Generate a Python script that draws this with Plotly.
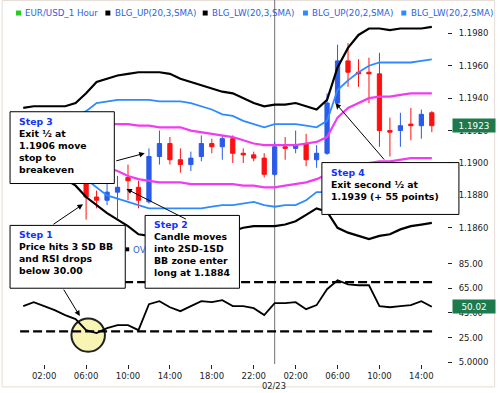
import plotly.graph_objects as go

# ---------------- data ----------------
hours = list(range(40))  # 00:00 02/22 ... 15:00 02/23
tick_hours = [2, 6, 10, 14, 18, 22, 26, 30, 34, 38]
tick_labels = ["02:00", "06:00", "10:00", "14:00", "18:00", "22:00",
               "02:00", "06:00", "10:00", "14:00"]
date_label = "02/23"
date_hour = 24

open_ = [1.1915, 1.1912, 1.1908, 1.1904, 1.1901, 1.1898, 1.1893, 1.1879, 1.1877, 1.1882,
         1.1891, 1.1885, 1.1876, 1.1904, 1.1912, 1.1902, 1.1899, 1.1904, 1.1912, 1.1910,
         1.1915, 1.1906, 1.1905, 1.1903, 1.1893, 1.1910, 1.1909, 1.1912, 1.1902, 1.1906,
         1.1937, 1.1963, 1.1956, 1.1956, 1.1955, 1.1920, 1.1920, 1.1924, 1.1923, 1.1931]
high = [1.1919, 1.1916, 1.1911, 1.1907, 1.1904, 1.1901, 1.1896, 1.1883, 1.1887, 1.1892,
        1.1899, 1.1889, 1.1909, 1.1920, 1.1916, 1.1909, 1.1907, 1.1917, 1.1915, 1.1917,
        1.1917, 1.1909, 1.1907, 1.1906, 1.1913, 1.1916, 1.1920, 1.1918, 1.1911, 1.1943,
        1.1973, 1.1974, 1.1964, 1.1965, 1.1968, 1.1928, 1.1931, 1.1934, 1.1933, 1.1932]
low = [1.1909, 1.1906, 1.1901, 1.1898, 1.1895, 1.1890, 1.1865, 1.1872, 1.1874, 1.1866,
       1.1877, 1.1872, 1.1875, 1.1899, 1.1899, 1.1894, 1.1895, 1.1901, 1.1906, 1.1902,
       1.1900, 1.1900, 1.1901, 1.1891, 1.1892, 1.1902, 1.1906, 1.1898, 1.1897, 1.1905,
       1.1933, 1.1947, 1.1947, 1.1937, 1.1910, 1.1904, 1.1910, 1.1914, 1.1915, 1.1919]
close = [1.1912, 1.1908, 1.1904, 1.1901, 1.1898, 1.1893, 1.1879, 1.1877, 1.1882, 1.1885,
         1.1889, 1.1877, 1.1904, 1.1912, 1.1902, 1.1899, 1.1903, 1.1912, 1.1910, 1.1915,
         1.1906, 1.1905, 1.1903, 1.1893, 1.1910, 1.1909, 1.1911, 1.1902, 1.1906, 1.1937,
         1.1963, 1.1956, 1.1955, 1.1955, 1.1920, 1.1919, 1.1923, 1.1923, 1.1930, 1.1923]

blg_up3 = [1.1934, 1.1935, 1.1935, 1.1935, 1.1935, 1.1937, 1.1943, 1.1950, 1.1952, 1.1954,
           1.1955, 1.1956, 1.1956, 1.1956, 1.1955, 1.1952, 1.1950, 1.1948, 1.1946, 1.1944,
           1.1943, 1.1940, 1.1937, 1.1935, 1.1936, 1.1936, 1.1937, 1.1935, 1.1933, 1.1939,
           1.1959, 1.1971, 1.1979, 1.1983, 1.1983, 1.1982, 1.1983, 1.1983, 1.1983, 1.1984]
blg_lw3 = [1.1896, 1.1895, 1.1893, 1.1892, 1.1890, 1.1886, 1.1879, 1.1874, 1.1869, 1.1865,
           1.1861, 1.1856, 1.1855, 1.1854, 1.1854, 1.1854, 1.1855, 1.1855, 1.1856, 1.1856,
           1.1858, 1.1860, 1.1861, 1.1861, 1.1861, 1.1862, 1.1864, 1.1868, 1.1872, 1.1870,
           1.1860, 1.1857, 1.1855, 1.1853, 1.1855, 1.1856, 1.1859, 1.1861, 1.1862, 1.1863]
blg_up2 = [1.1928, 1.1928, 1.1928, 1.1928, 1.1928, 1.1929, 1.1932, 1.1937, 1.1938, 1.1939,
           1.1939, 1.1939, 1.1939, 1.1938, 1.1938, 1.1938, 1.1937, 1.1935, 1.1933, 1.1930,
           1.1929, 1.1926, 1.1924, 1.1922, 1.1924, 1.1924, 1.1924, 1.1923, 1.1922, 1.1926,
           1.1945, 1.1951, 1.1956, 1.1960, 1.1962, 1.1962, 1.1962, 1.1962, 1.1963, 1.1964]
blg_lw2 = [1.1902, 1.1902, 1.1900, 1.1899, 1.1897, 1.1895, 1.1890, 1.1885, 1.1880, 1.1878,
           1.1876, 1.1874, 1.1872, 1.1872, 1.1872, 1.1872, 1.1872, 1.1872, 1.1873, 1.1874,
           1.1874, 1.1875, 1.1876, 1.1874, 1.1873, 1.1874, 1.1874, 1.1877, 1.1882, 1.1882,
           1.1876, 1.1876, 1.1876, 1.1875, 1.1876, 1.1877, 1.1880, 1.1881, 1.1882, 1.1883]
blg_up1 = [1.1921, 1.1922, 1.1921, 1.1921, 1.1920, 1.1920, 1.1922, 1.1923, 1.1924, 1.1924,
           1.1924, 1.1923, 1.1923, 1.1922, 1.1922, 1.1922, 1.1920, 1.1919, 1.1918, 1.1917,
           1.1916, 1.1914, 1.1912, 1.1911, 1.1911, 1.1911, 1.1911, 1.1912, 1.1913, 1.1916,
           1.1928, 1.1934, 1.1937, 1.1940, 1.1941, 1.1941, 1.1942, 1.1943, 1.1943, 1.1943]
blg_lw1 = [1.1909, 1.1908, 1.1907, 1.1906, 1.1905, 1.1903, 1.1900, 1.1899, 1.1897, 1.1895,
           1.1892, 1.1890, 1.1889, 1.1888, 1.1888, 1.1888, 1.1887, 1.1887, 1.1887, 1.1887,
           1.1887, 1.1886, 1.1886, 1.1885, 1.1885, 1.1886, 1.1887, 1.1888, 1.1890, 1.1893,
           1.1896, 1.1898, 1.1899, 1.1900, 1.1901, 1.1901, 1.1902, 1.1903, 1.1903, 1.1903]

rsi = [50.5, 53.7, 50.5, 47.2, 43.2, 40.0, 31.0, 28.6, 32.7, 35.1,
       35.1, 31.0, 52.1, 54.5, 49.6, 46.4, 50.5, 54.5, 53.7, 55.3,
       50.5, 50.5, 48.8, 43.2, 52.9, 52.9, 53.7, 48.0, 51.3, 64.2,
       71.5, 68.2, 67.4, 67.4, 50.5, 49.6, 50.5, 51.3, 54.5, 50.02]
rsi_levels = [70, 30]

price_ticks = [1.1860, 1.1880, 1.1900, 1.1920, 1.1940, 1.1960, 1.1980]
price_tick_text = ["1.1860", "1.1880", "1.1900", "1.1920", "1.1940", "1.1960", "1.1980"]
rsi_ticks = [85, 65, 45, 25, 5]
rsi_tick_text = ["85.00", "65.00", "45.00", "25.00", "5.0000"]

legend_items = ["EUR/USD_1 Hour", "BLG_UP(20,3,SMA)", "BLG_LW(20,3,SMA)",
                "BLG_UP(20,2,SMA)", "BLG_LW(20,2,SMA)"]

step1 = ["Step 1", "Price hits 3 SD BB", "and RSI drops", "below 30.00"]
step2 = ["Step 2", "Candle moves", "into 2SD-1SD", "BB zone enter", "long at 1.1884"]
step3 = ["Step 3", "Exit \u00bd at", "1.1906 move", "stop to", "breakeven"]
step4 = ["Step 4", "Exit second \u00bd at", "1.1939 (+ 55 points)"]

# ---------------- styles ----------------
C_UP = "#2a5ae8"
C_DN = "#ff1010"
C_BLK = "#000000"
C_BLUE = "#2d8bff"
C_MAG = "#f03cf0"
C_LEG = "#2a62e0"
C_STEP = "#1434f5"
C_TAG = "#1d7a4c"
FONT = "DejaVu Sans"

W, H = 500, 393
ML, MR, MT, MB = 18, 50, 22, 28
PW, PH = W - ML - MR, H - MT - MB


def px(x):
    return (x - ML) / PW


def py(y):
    return (MT + PH - y) / PH


split = py(250)

fig = go.Figure()

fig.add_trace(go.Candlestick(
    x=hours, open=open_, high=high, low=low, close=close,
    increasing=dict(line=dict(color=C_UP, width=1), fillcolor=C_UP),
    decreasing=dict(line=dict(color=C_DN, width=1), fillcolor=C_DN),
    whiskerwidth=0, xaxis="x", yaxis="y", showlegend=False, hoverinfo="skip"))

for series, color, w in [(blg_up1, C_MAG, 2.2), (blg_lw1, C_MAG, 2.2),
                         (blg_up2, C_BLUE, 1.8), (blg_lw2, C_BLUE, 1.8),
                         (blg_up3, C_BLK, 2.2), (blg_lw3, C_BLK, 2.2)]:
    fig.add_trace(go.Scatter(x=hours, y=series, mode="lines",
                             line=dict(color=color, width=w),
                             xaxis="x", yaxis="y", showlegend=False, hoverinfo="skip"))

for lvl in rsi_levels:
    fig.add_trace(go.Scatter(x=[hours[0] - 0.3, hours[-1] + 0.3], y=[lvl, lvl], mode="lines",
                             line=dict(color=C_BLK, width=2.2, dash="9px,4px"),
                             xaxis="x", yaxis="y2", showlegend=False, hoverinfo="skip"))

fig.add_trace(go.Scatter(x=hours, y=rsi, mode="lines",
                         line=dict(color=C_BLK, width=1.8),
                         xaxis="x", yaxis="y2", showlegend=False, hoverinfo="skip"))

shapes = []
# outer frame
shapes.append(dict(type="rect", xref="paper", yref="paper", x0=px(2), x1=px(498),
                   y0=py(388), y1=py(0.5), line=dict(color="#e6dcd6", width=1),
                   fillcolor="rgba(0,0,0,0)", layer="below"))
# day separator
shapes.append(dict(type="line", xref="x", yref="paper", x0=date_hour, x1=date_hour,
                   y0=py(365), y1=py(0), line=dict(color="#707070", width=1), layer="below"))
# highlight circle on RSI
shapes.append(dict(type="circle", xref="x", yref="y2", x0=4.6, x1=7.8, y0=13.5, y1=40.5,
                   line=dict(color="#222222", width=2), fillcolor="#f8f4b4", layer="below"))

annotations = []

# legend
leg_x = [16, 106, 204, 305, 404]
leg_col = ["#22cc22", C_BLK, C_BLK, C_BLUE, C_BLUE]
for name, lx, col in zip(legend_items, leg_x, leg_col):
    shapes.append(dict(type="rect", xref="paper", yref="paper", x0=px(lx), x1=px(lx + 5),
                       y0=py(15.5), y1=py(10.5), line=dict(width=0), fillcolor=col))
    annotations.append(dict(xref="paper", yref="paper", x=px(lx + 7.5), y=py(13),
                            xanchor="left", yanchor="middle", text=name, showarrow=False,
                            font=dict(family=FONT, size=8.7, color=C_LEG)))

# partially hidden RSI legend row
shapes.append(dict(type="rect", xref="paper", yref="paper", x0=px(126), x1=px(130),
                   y0=py(252), y1=py(248), line=dict(width=0), fillcolor=C_BLK))
annotations.append(dict(xref="paper", yref="paper", x=px(132), y=py(251),
                        xanchor="left", yanchor="middle", text="OV", showarrow=False,
                        font=dict(family=FONT, size=8.7, color=C_LEG)))

# step boxes
boxes = [(step3, 10, 115, 112, 184), (step1, 10, 126, 226, 289),
         (step2, 146, 241, 216, 289), (step4, 324, 462, 163, 215)]
for lines, x0, x1, y0, y1 in boxes:
    shapes.append(dict(type="rect", xref="paper", yref="paper", x0=px(x0), x1=px(x1),
                       y0=py(y1), y1=py(y0), line=dict(color=C_BLK, width=1),
                       fillcolor="white", layer="above"))
    txt = "<span style='color:%s'>%s</span><br>" % (C_STEP, lines[0]) + "<br>".join(lines[1:])
    annotations.append(dict(xref="paper", yref="paper", x=px(x0 + 8), y=py(y0 + 3),
                            xanchor="left", yanchor="top", align="left", text=txt,
                            showarrow=False, borderpad=0,
                            font=dict(family=FONT, size=9.3, color=C_BLK, weight="bold")))

# arrows (head in data coords, tail offset in px)
arrows = [("y", 11.6, 1.1906, -30, 8),
          ("y", 5.7, 1.18745, -31, 21),
          ("y", 9.85, 1.1884, 61, 31),
          ("y", 29.8, 1.1937, 50, 58),
          ("y2", 5.4, 42.4, -17, -28)]
for yr, hx, hy, ax, ay in arrows:
    annotations.append(dict(xref="x", yref=yr, x=hx, y=hy, ax=ax, ay=ay, text="",
                            showarrow=True, arrowhead=2, arrowsize=1.1, arrowwidth=1,
                            arrowcolor=C_BLK, standoff=0))

# last value tags
annotations.append(dict(xref="paper", yref="y", x=px(455), y=close[-1], xanchor="left",
                        yanchor="middle", text="%.4f" % close[-1], showarrow=False,
                        bgcolor=C_TAG, width=40, height=11, borderpad=1,
                        font=dict(family=FONT, size=8.8, color="white")))
annotations.append(dict(xref="paper", yref="y2", x=px(455), y=rsi[-1], xanchor="left",
                        yanchor="middle", text="%.2f" % rsi[-1], showarrow=False,
                        bgcolor=C_TAG, width=40, height=11, borderpad=1,
                        font=dict(family=FONT, size=8.8, color="white")))

# date label
annotations.append(dict(xref="x", yref="paper", x=date_hour - 0.1, y=py(387),
                        xanchor="center", yanchor="middle", text=date_label, showarrow=False,
                        font=dict(family=FONT, size=8.3, color="#222222")))

tickfont = dict(family=FONT, size=8.5, color="#222222")

fig.update_layout(
    width=W, height=H, margin=dict(l=ML, r=MR, t=MT, b=MB, pad=0),
    paper_bgcolor="white", plot_bgcolor="white", showlegend=False,
    boxgap=0.42,
    xaxis=dict(domain=[0, 422 / PW], range=[-0.5, 39.5], anchor="y2",
               tickvals=tick_hours, ticktext=tick_labels, ticks="outside", ticklen=4,
               tickcolor="#222222", showgrid=False, zeroline=False, showline=False,
               tickfont=tickfont, rangeslider=dict(visible=False)),
    yaxis=dict(domain=[split, 1], range=[1.18467, 1.19870], anchor="free", position=1,
               side="right", tickvals=price_ticks, ticktext=price_tick_text,
               ticks="outside", ticklen=4, tickcolor="#222222", showgrid=False,
               zeroline=False, showline=False, tickfont=tickfont, ticklabelstandoff=5),
    yaxis2=dict(domain=[0, split], range=[3.58, 96.52], anchor="free", position=1,
                side="right", tickvals=rsi_ticks, ticktext=rsi_tick_text,
                ticks="outside", ticklen=4, tickcolor="#222222", showgrid=False,
                zeroline=False, showline=False, tickfont=tickfont, ticklabelstandoff=5),
    shapes=shapes, annotations=annotations,
)

fig.write_html("out.html", config={"displayModeBar": False},
               post_script="document.body.style.margin='0';")
